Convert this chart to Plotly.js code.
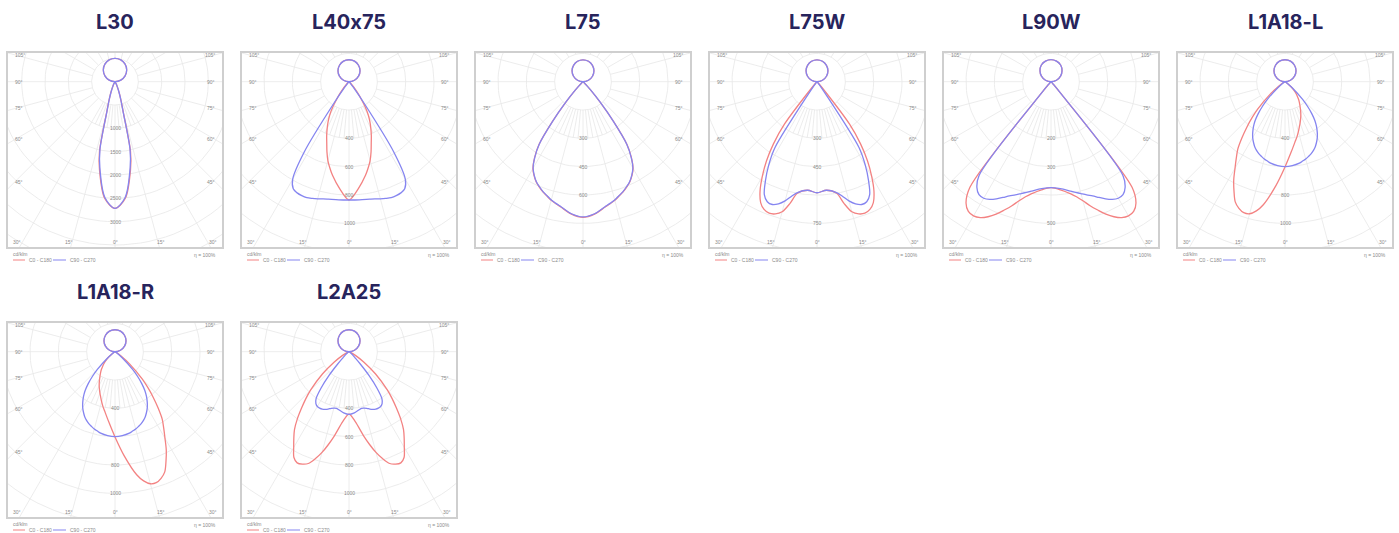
<!DOCTYPE html>
<html><head><meta charset="utf-8">
<script src="https://cdn.plot.ly/plotly-3.0.1.min.js"></script>
<style>html,body{margin:0;padding:0;background:#fff;}#chart{width:1399px;height:533px;}
svg text{font-feature-settings:"calt" 0,"liga" 0 !important;font-variant-ligatures:none;}</style>
</head><body><div id="chart"></div>
<script>
// ---------------- DATA ----------------
const panelNames = ["L30", "L40x75", "L75", "L75W", "L90W", "L1A18-L", "L1A18-R", "L2A25"];
const ringStepCd = [500, 200, 150, 150, 100, 200, 200, 200];
const ringLabelValues = [
  [1000, 1500, 2000, 2500, 3000],
  [400, 600, 800, 1000],
  [300, 450, 600],
  [300, 450, 750],
  [200, 300, 500],
  [400, 800, 1000],
  [400, 800, 1000],
  [400, 600, 800, 1000]
];
// gamma angles (deg, 0 = straight down, 180 = straight up)
const gammaDeg = [0, 5, 10, 12.5, 15, 17.5, 20, 22.5, 25, 27.5, 30, 32.5, 35, 37.5, 40, 42.5, 45, 50, 55, 60, 65, 70, 80, 90, 105, 120, 135, 150, 165, 180];
const sideAngleLabels = ["105°", "90°", "75°", "60°", "45°"];
const bottomAngleLabels = ["30°", "15°", "0°", "15°", "30°"];
const legendLabels = ["C0 - C180", "C90 - C270"];
const unitLabel = "cd/klm";
const efficiencyLabel = "η = 100%";

// luminous intensity, cd/klm, one value per gamma angle
const L30_red  = [2714, 2514, 1914, 1536, 714, 443, 286, 179, 107, 64, 36, 21, 14, 7, 7, 5, 4, 3, 2, 1, 1, 0, 0, 0, 129, 250, 354, 433, 483, 500];
const L30_blue = [2714, 2490, 1870, 1490, 690, 430, 280, 175, 105, 62, 35, 20, 13, 7, 6, 5, 4, 3, 2, 1, 1, 0, 0, 0, 129, 250, 354, 433, 483, 500];
const L40x75_red  = [835, 758, 671, 624, 576, 518, 459, 412, 365, 320, 273, 216, 153, 104, 66, 40, 24, 9, 5, 2, 1, 0, 0, 0, 40, 78, 110, 134, 150, 155];
const L40x75_blue = [835, 838, 842, 847, 856, 864, 871, 871, 866, 852, 795, 588, 188, 47, 14, 7, 5, 2, 1, 0, 0, 0, 0, 0, 40, 78, 110, 134, 150, 155];
const L75_red  = [718, 704, 674, 662, 650, 635, 621, 604, 586, 561, 530, 477, 406, 265, 141, 62, 21, 7, 4, 2, 1, 0, 0, 0, 30, 58, 82, 100, 112, 116];
const L75_blue = [716, 702, 672, 660, 648, 633, 619, 602, 584, 559, 528, 475, 404, 263, 140, 61, 21, 7, 4, 2, 1, 0, 0, 0, 30, 58, 82, 100, 112, 116];
const L75W_red  = [588, 577, 600, 660, 713, 734, 741, 732, 706, 653, 579, 498, 402, 282, 62, 18, 7, 4, 2, 0, 0, 0, 0, 0, 30, 58, 82, 100, 112, 116];
const L75W_blue = [588, 577, 596, 621, 653, 678, 692, 688, 660, 591, 512, 415, 71, 18, 7, 4, 2, 0, 0, 0, 0, 0, 0, 0, 30, 58, 82, 100, 112, 116];
const L90W_red  = [374, 383, 402, 416, 435, 459, 482, 506, 526, 541, 547, 543, 523, 470, 47, 12, 5, 2, 1, 0, 0, 0, 0, 0, 20, 39, 55, 68, 75, 78];
const L90W_blue = [374, 379, 392, 400, 409, 419, 429, 442, 456, 468, 475, 473, 456, 417, 47, 12, 5, 2, 1, 0, 0, 0, 0, 0, 20, 39, 55, 68, 75, 78];
const L1A18_blue      = [600, 595, 584, 574, 565, 553, 541, 525, 506, 482, 456, 424, 388, 346, 294, 235, 176, 66, 24, 9, 5, 2, 0, 0, 40, 78, 110, 134, 150, 155];
const L1A18_red_main  = [602, 736, 882, 934, 965, 969, 951, 918, 852, 784, 706, 640, 581, 499, 419, 344, 271, 136, 52, 16, 7, 2, 0, 0, 40, 78, 110, 134, 150, 155];
const L1A18_red_back  = [602, 499, 424, 395, 365, 336, 311, 287, 264, 240, 216, 195, 176, 158, 136, 118, 99, 56, 24, 9, 5, 2, 0, 0, 40, 78, 110, 134, 150, 155];
const L2A25_red  = [440, 494, 607, 671, 736, 793, 840, 859, 866, 842, 781, 725, 671, 600, 522, 452, 384, 245, 129, 52, 19, 7, 2, 0, 40, 78, 110, 134, 150, 155];
const L2A25_blue = [442, 433, 416, 409, 412, 419, 431, 440, 447, 449, 447, 435, 405, 325, 221, 118, 59, 28, 12, 5, 2, 0, 0, 0, 40, 78, 110, 134, 150, 155];

// per panel: [red left half, red right half, blue left half, blue right half]
const panelCurves = [
  [L30_red, L30_red, L30_blue, L30_blue],
  [L40x75_red, L40x75_red, L40x75_blue, L40x75_blue],
  [L75_red, L75_red, L75_blue, L75_blue],
  [L75W_red, L75W_red, L75W_blue, L75W_blue],
  [L90W_red, L90W_red, L90W_blue, L90W_blue],
  [L1A18_red_main, L1A18_red_back, L1A18_blue, L1A18_blue],
  [L1A18_red_back, L1A18_red_main, L1A18_blue, L1A18_blue],
  [L2A25_red, L2A25_red, L2A25_blue, L2A25_blue]
];

// ---------------- LAYOUT / STYLE ----------------
const W = 1399, H = 533;
const BOX_W = 214, BOX_H = 194, ORIGIN_DY = 28.7;
const RED = "#f38282", BLUE = "#8585f0", GRID = "#e7e7e7", FRAME = "#cfcfcf";
const TINY = {family: "Liberation Sans, Arial, sans-serif", size: 5, color: "#8a8a8a"};
const rad = d => d * Math.PI / 180;
const boxLeft = i => 8 + 234 * (i % 6);
const boxTop = i => 53 + 270 * Math.floor(i / 6);
const ringPx = i => (i === 0 ? 23.33 : 28.33);

const traces = [], annotations = [], shapes = [];
const layout = {
  width: W, height: H, margin: {l: 0, r: 0, t: 0, b: 0},
  paper_bgcolor: "#fff", plot_bgcolor: "#fff", showlegend: false,
  annotations: annotations, shapes: shapes
};

function halfXY(I, sign, lower) {
  const pts = [];
  gammaDeg.forEach((g, k) => {
    if (lower ? g <= 90 : g >= 90) pts.push([sign * I[k] * Math.sin(rad(g)), -I[k] * Math.cos(rad(g))]);
  });
  return pts;
}
function closedCurve(IL, IR, lower) {
  const left = halfXY(IL, -1, lower), right = halfXY(IR, 1, lower);
  let pts;
  if (lower) { pts = left.slice().reverse().concat(right.slice(1)); }
  else { pts = right.concat(left.slice().reverse().slice(1)); }
  return {x: pts.map(p => p[0]), y: pts.map(p => p[1])};
}

panelNames.forEach((name, i) => {
  const ax = i === 0 ? "" : String(i + 1);
  const xa = "x" + ax, ya = "y" + ax;
  const L = boxLeft(i), T = boxTop(i);
  const step = ringStepCd[i];
  const s = ringPx(i) / step;                 // px per cd
  const xr = [-(BOX_W / 2) / s, (BOX_W / 2) / s];
  const yr = [-(BOX_H - ORIGIN_DY) / s, ORIGIN_DY / s];
  const axisCommon = {showgrid: false, zeroline: false, showticklabels: false, ticks: "",
    showline: true, mirror: true, linecolor: FRAME, linewidth: 1.8, fixedrange: true};
  layout["xaxis" + ax] = Object.assign({}, axisCommon, {range: xr, domain: [L / W, (L + BOX_W) / W], anchor: ya});
  layout["yaxis" + ax] = Object.assign({}, axisCommon, {range: yr, domain: [1 - (T + BOX_H) / H, 1 - T / H], anchor: xa});

  // grid: rings
  const gx = [], gy = [];
  for (let k = 1; k <= 10; k++) {
    const R = k * step;
    for (let a = 0; a <= 360; a += 3) { gx.push(R * Math.cos(rad(a))); gy.push(R * Math.sin(rad(a))); }
    gx.push(null); gy.push(null);
  }
  // grid: radial lines (every 15 deg; 5 deg minor ticks near the downward axis)
  for (let a = -180; a < 180; a += 5) {
    const major = a % 15 === 0;
    if (!major && Math.abs(a) > 30) continue;
    const r0 = step, r1 = major ? 10 * step : 2 * step;
    gx.push(r0 * Math.sin(rad(a)), r1 * Math.sin(rad(a)), null);
    gy.push(-r0 * Math.cos(rad(a)), -r1 * Math.cos(rad(a)), null);
  }
  traces.push({type: "scatter", mode: "lines", x: gx, y: gy, xaxis: xa, yaxis: ya,
    line: {color: GRID, width: 0.8}, hoverinfo: "skip"});

  // curves
  const c = panelCurves[i];
  [[c[0], c[1], RED], [c[2], c[3], BLUE]].forEach(([IL, IR, col]) => {
    [true, false].forEach(lower => {
      const xy = closedCurve(IL, IR, lower);
      traces.push({type: "scatter", mode: "lines", x: xy.x, y: xy.y, xaxis: xa, yaxis: ya,
        line: {color: col, width: 1.3, shape: "spline", smoothing: 0.9}, hoverinfo: "skip"});
    });
  });

  // title
  annotations.push({xref: "paper", yref: "paper", x: (L + BOX_W / 2) / W, y: 1 - (T - 31) / H,
    text: name, showarrow: false, xanchor: "center", yanchor: "middle",
    font: {family: "Inter, Lato, sans-serif", size: 20, weight: 700, color: "#27245c"}});

  // side angle labels
  const sideAng = [105, 90, 75, 60, 45];
  sideAng.forEach((g, k) => {
    const ypx = -100 / Math.tan(rad(g));
    annotations.push({xref: xa, yref: ya, x: xr[0] + 5 / s, y: ypx / s, text: sideAngleLabels[k],
      showarrow: false, xanchor: "left", yanchor: "middle", font: TINY});
    annotations.push({xref: xa, yref: ya, x: xr[1] - 5 / s, y: ypx / s, text: sideAngleLabels[k],
      showarrow: false, xanchor: "right", yanchor: "middle", font: TINY});
  });
  const botAng = [-30, -15, 0, 15, 30];
  botAng.forEach((g, k) => {
    annotations.push({xref: xa, yref: ya, x: 170 * Math.tan(rad(g)) / s, y: yr[0] + 5 / s, text: bottomAngleLabels[k],
      showarrow: false, xanchor: "center", yanchor: "middle", font: TINY});
  });
  // ring labels
  ringLabelValues[i].forEach(v => {
    annotations.push({xref: xa, yref: ya, x: 0, y: -v, text: String(v), showarrow: false,
      xanchor: "center", yanchor: "middle", font: TINY});
  });

  // legend below the box
  const B = T + BOX_H;
  annotations.push({xref: "paper", yref: "paper", x: (L + 3) / W, y: 1 - (B + 7) / H, text: unitLabel,
    showarrow: false, xanchor: "left", yanchor: "middle", font: TINY});
  annotations.push({xref: "paper", yref: "paper", x: (L + BOX_W - 4) / W, y: 1 - (B + 8) / H, text: efficiencyLabel,
    showarrow: false, xanchor: "right", yanchor: "middle", font: TINY});
  [[5, 17, 19, RED, legendLabels[0]], [45, 58, 60, BLUE, legendLabels[1]]].forEach(([a, b, t, col, txt]) => {
    shapes.push({type: "line", xref: "paper", yref: "paper", x0: (L + a) / W, x1: (L + b) / W,
      y0: 1 - (B + 13) / H, y1: 1 - (B + 13) / H, line: {color: col, width: 1}});
    annotations.push({xref: "paper", yref: "paper", x: (L + t) / W, y: 1 - (B + 13) / H, text: txt,
      showarrow: false, xanchor: "left", yanchor: "middle", font: TINY});
  });
});

Plotly.newPlot("chart", traces, layout, {displayModeBar: false, staticPlot: true});
</script>
</body></html>
